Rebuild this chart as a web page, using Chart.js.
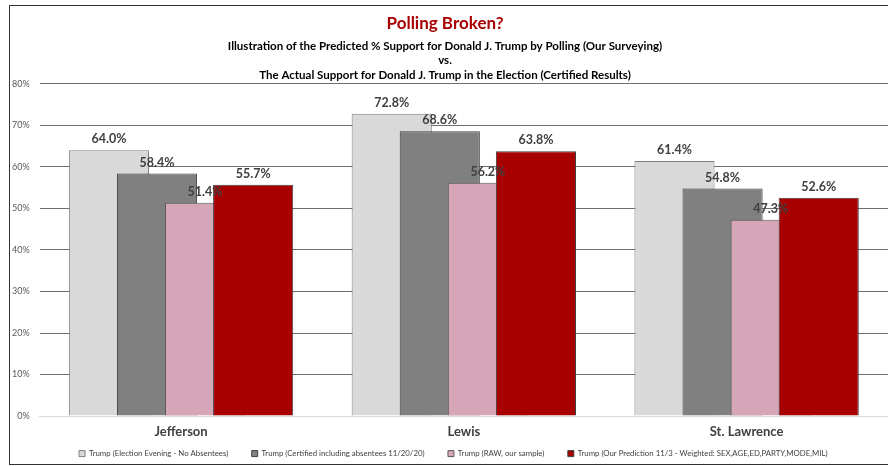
<!DOCTYPE html>
<html>
<head>
<meta charset="utf-8">
<script src="https://cdn.jsdelivr.net/npm/chart.js@4"></script>
<style>
  html, body { margin: 0; padding: 0; background: #fff; overflow: hidden; }
  .frame {
    position: absolute; left: 9px; top: 5px; width: 900px; height: 458px;
    border-top: 1.5px solid #333; border-left: 1.5px solid #333; border-bottom: 1.5px solid #333;
  }
  #myChart { position: absolute; left: 0; top: 0; }
</style>
</head>
<body>
<div class="frame"></div>
<canvas id="myChart" width="888" height="466"></canvas>
<script>
// counties
const counties = ["Jefferson", "Lewis", "St. Lawrence"];

// % support for Trump, one list per series
const electionEvening = [64.0, 72.8, 61.4];
const certified = [58.4, 68.6, 54.8];
const rawSample = [51.4, 56.2, 47.3];
const ourPrediction = [55.7, 63.8, 52.6];

const seriesNames = [
  "Trump (Election Evening - No Absentees)",
  "Trump (Certified including absentees 11/20/20)",
  "Trump (RAW, our sample)",
  "Trump (Our Prediction 11/3 - Weighted: SEX,AGE,ED,PARTY,MODE,MIL)"
];

const yMin = 0, yMax = 80, yStep = 10;

const fontFace = "Lato, 'Open Sans', sans-serif";

// draw series left to right so each bar sits on top of the previous one,
// then put the value labels over everything
const barsAndLabels = {
  id: "barsAndLabels",
  beforeDatasetsDraw(chart) {
    const n = chart.data.datasets.length;
    for (let i = 0; i < n; i++) {
      const meta = chart.getDatasetMeta(i);
      if (!meta.hidden) meta.controller.draw();
    }
    const ctx = chart.ctx;
    ctx.save();
    ctx.font = "bold 12.5px " + fontFace;
    ctx.fillStyle = "#404040";
    ctx.textAlign = "center";
    ctx.textBaseline = "middle";
    chart.data.datasets.forEach((ds, i) => {
      chart.getDatasetMeta(i).data.forEach((bar, j) => {
        ctx.fillText(ds.data[j].toFixed(1) + "%", bar.x, bar.y - 11);
      });
    });
    ctx.restore();
    return false;
  }
};

function makeSet(label, data, fill, border) {
  return {
    label: label,
    data: data,
    backgroundColor: fill,
    borderColor: border,
    borderWidth: 1,
    barPercentage: 1.667,
    categoryPercentage: 0.68
  };
}

new Chart(document.getElementById("myChart"), {
  type: "bar",
  data: {
    labels: counties,
    datasets: [
      makeSet(seriesNames[0], electionEvening, "#D9D9D9", "#7F7F7F"),
      makeSet(seriesNames[1], certified, "#808080", "#404040"),
      makeSet(seriesNames[2], rawSample, "#D5A6B7", "#595959"),
      makeSet(seriesNames[3], ourPrediction, "#A80000", "#404040")
    ]
  },
  options: {
    responsive: false,
    devicePixelRatio: 1,
    animation: false,
    layout: { padding: { left: 2, right: 0, top: 0, bottom: -1.5 } },
    scales: {
      x: {
        grid: { display: false, drawTicks: false },
        border: { display: true, color: "#D9D9D9", width: 1 },
        ticks: {
          color: "#404040",
          padding: 8,
          font: { family: fontFace, size: 13, weight: "bold" }
        }
      },
      y: {
        min: yMin,
        max: yMax,
        border: { display: false },
        grid: {
          drawTicks: false,
          color: (c) => c.tick && c.tick.value === 0 ? "#D9D9D9" : "#6E6E6E",
          lineWidth: 1
        },
        ticks: {
          stepSize: yStep,
          padding: 10,
          color: "#595959",
          font: { family: fontFace, size: 9 },
          callback: (v) => v + "%"
        }
      }
    },
    plugins: {
      title: {
        display: true,
        text: "Polling Broken?",
        color: "#A80000",
        font: { family: fontFace, size: 17, weight: "bold" },
        padding: { top: 13.5, bottom: 2 }
      },
      subtitle: {
        display: true,
        text: [
          "Illustration of the Predicted % Support for Donald J. Trump by Polling (Our Surveying)",
          "vs.",
          "The Actual Support for Donald J. Trump in the Election (Certified Results)"
        ],
        color: "#000",
        font: { family: fontFace, size: 11.5, weight: "bold", lineHeight: 1.26 },
        padding: { top: 2.75, bottom: 1.75 }
      },
      legend: {
        position: "bottom",
        align: "end",
        labels: {
          boxWidth: 6,
          boxHeight: 6,
          padding: 2,
          color: "#404040",
          font: { family: fontFace, size: 7.8 },
          // spacing between entries (and the gap to the right edge) via trailing spaces
          generateLabels(chart) {
            const items = Chart.defaults.plugins.legend.labels.generateLabels(chart);
            items.forEach((it, i) => {
              it.text = it.text + (i < items.length - 1 ? "\u2003\u2003\u2003\u2002" : "\u2003".repeat(10));
            });
            return items;
          }
        }
      },
      tooltip: { enabled: false }
    }
  },
  plugins: [barsAndLabels]
});
</script>
</body>
</html>
